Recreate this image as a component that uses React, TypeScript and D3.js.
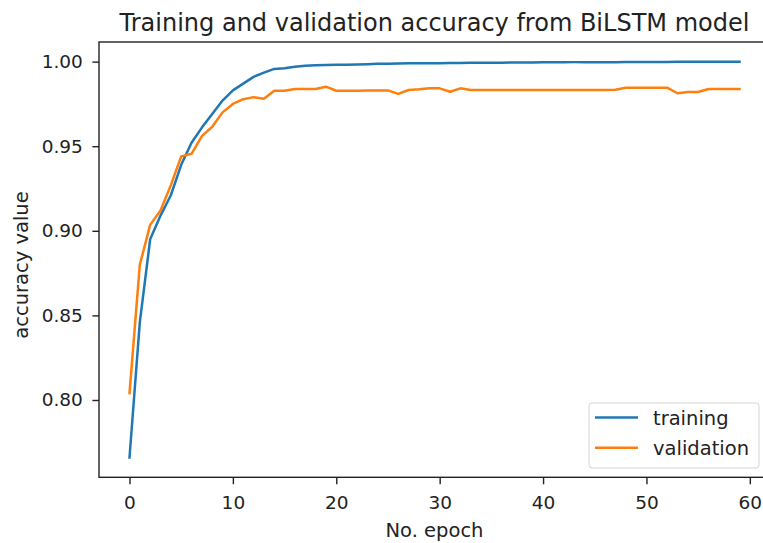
import React, { useEffect, useRef } from "react";
import * as d3 from "d3";

const epochs = d3.range(60);

const training = [
  0.766, 0.846, 0.895, 0.909, 0.921, 0.939, 0.952, 0.961, 0.969, 0.977,
  0.983, 0.987, 0.991, 0.9935, 0.9957, 0.9961, 0.9969, 0.9975, 0.9978, 0.998,
  0.9981, 0.9982, 0.9983, 0.9985, 0.9987, 0.9988, 0.9989, 0.999, 0.999, 0.9991,
  0.9991, 0.9992, 0.9992, 0.9993, 0.9993, 0.9994, 0.9994, 0.9995, 0.9995, 0.9995,
  0.9996, 0.9996, 0.9996, 0.9997, 0.9997, 0.9997, 0.9997, 0.9997, 0.9998, 0.9998,
  0.9998, 0.9998, 0.9998, 0.9999, 0.9999, 0.9999, 0.9999, 0.9999, 0.9999, 0.9999,
];

const validation = [
  0.804, 0.88, 0.9035, 0.912, 0.927, 0.944, 0.9455, 0.956, 0.9615, 0.97,
  0.975, 0.9778, 0.979, 0.978, 0.9828, 0.9828, 0.9838, 0.9838, 0.9838, 0.9852,
  0.9828, 0.9828, 0.9828, 0.9829, 0.983, 0.983, 0.9809, 0.9832, 0.9836, 0.9842,
  0.9842, 0.9822, 0.9842, 0.9832, 0.9832, 0.9832, 0.9832, 0.9832, 0.9832, 0.9832,
  0.9832, 0.9832, 0.9832, 0.9832, 0.9832, 0.9832, 0.9832, 0.9834, 0.9846, 0.9846,
  0.9846, 0.9846, 0.9846, 0.9813, 0.982, 0.982, 0.9838, 0.9838, 0.9838, 0.9838,
];

const series = [
  { name: "training", values: training, color: "#1f77b4" },
  { name: "validation", values: validation, color: "#ff7f0e" },
];

const xTicks = [0, 10, 20, 30, 40, 50, 60];
const yTicks = [0.8, 0.85, 0.9, 0.95, 1.0];

const width = 763;
const height = 543;
const box = { left: 99, right: 770, top: 42, bottom: 477.3 };
const font = "DejaVu Sans, sans-serif";
const ink = "#222";

export default function App() {
  const ref = useRef<SVGSVGElement>(null);

  useEffect(() => {
    const svg = d3.select(ref.current);
    svg.selectAll("*").remove();

    // matplotlib-like 5% margins
    const xPad = (epochs.length - 1) * 0.05;
    const x = d3
      .scaleLinear()
      .domain([-xPad, epochs.length - 1 + xPad])
      .range([box.left, box.right]);

    const all = training.concat(validation);
    const lo = d3.min(all)!;
    const hi = d3.max(all)!;
    const yPad = (hi - lo) * 0.05;
    const y = d3
      .scaleLinear()
      .domain([lo - yPad, hi + yPad])
      .range([box.bottom, box.top]);

    const line = d3
      .line<number>()
      .x((_, i) => x(epochs[i]))
      .y(d => y(d));

    svg
      .append("g")
      .selectAll("path")
      .data(series)
      .join("path")
      .attr("d", d => line(d.values))
      .attr("fill", "none")
      .attr("stroke", d => d.color)
      .attr("stroke-width", 2.5)
      .attr("stroke-linejoin", "round")
      .attr("stroke-linecap", "square");

    // spines
    svg
      .append("rect")
      .attr("x", box.left)
      .attr("y", box.top)
      .attr("width", box.right - box.left)
      .attr("height", box.bottom - box.top)
      .attr("fill", "none")
      .attr("stroke", ink)
      .attr("stroke-width", 1.4);

    const styleTicks = g =>
      g
        .call(g => g.select(".domain").remove())
        .call(g => g.selectAll(".tick line").attr("stroke", ink).attr("stroke-width", 1.4))
        .call(g =>
          g
            .selectAll(".tick text")
            .attr("fill", ink)
            .attr("font-size", 18.5)
            .attr("font-family", font)
        );

    const xAxis = g =>
      g
        .attr("transform", `translate(0,${box.bottom})`)
        .call(
          d3
            .axisBottom(x)
            .tickValues(xTicks)
            .tickFormat(d3.format("d"))
            .tickSize(7)
            .tickPadding(12)
        )
        .call(styleTicks);

    const yAxis = g =>
      g
        .attr("transform", `translate(${box.left},0)`)
        .call(
          d3
            .axisLeft(y)
            .tickValues(yTicks)
            .tickFormat(d3.format(".2f"))
            .tickSize(6.6)
            .tickPadding(9.5)
        )
        .call(styleTicks);

    svg.append("g").call(xAxis);
    svg.append("g").call(yAxis);

    const mid = (box.left + box.right) / 2;

    svg
      .append("text")
      .attr("x", mid)
      .attr("y", 31)
      .attr("text-anchor", "middle")
      .attr("font-family", font)
      .attr("font-size", 24)
      .attr("fill", ink)
      .text("Training and validation accuracy from BiLSTM model");

    svg
      .append("text")
      .attr("x", mid)
      .attr("y", 536.5)
      .attr("text-anchor", "middle")
      .attr("font-family", font)
      .attr("font-size", 19.5)
      .attr("fill", ink)
      .text("No. epoch");

    svg
      .append("text")
      .attr("transform", `translate(28,265) rotate(-90)`)
      .attr("text-anchor", "middle")
      .attr("font-family", font)
      .attr("font-size", 19.5)
      .attr("fill", ink)
      .text("accuracy value");

    // legend
    const legend = svg.append("g").attr("transform", "translate(589,403)");
    legend
      .append("rect")
      .attr("width", 170)
      .attr("height", 65)
      .attr("rx", 3)
      .attr("fill", "#fff")
      .attr("fill-opacity", 0.8)
      .attr("stroke", "#d5d5d5");

    const item = legend
      .selectAll("g.item")
      .data(series)
      .join("g")
      .attr("class", "item")
      .attr("transform", (_, i) => `translate(0,${14.5 + i * 30.3})`);

    item
      .append("line")
      .attr("x1", 6)
      .attr("x2", 49)
      .attr("stroke", d => d.color)
      .attr("stroke-width", 2.5);

    item
      .append("text")
      .attr("x", 64)
      .attr("y", 7)
      .attr("font-family", font)
      .attr("font-size", 19.5)
      .attr("fill", ink)
      .text(d => d.name);
  }, []);

  return (
    <svg
      ref={ref}
      width={width}
      height={height}
      style={{ position: "absolute", left: 0, top: 0, background: "#fff" }}
    />
  );
}
